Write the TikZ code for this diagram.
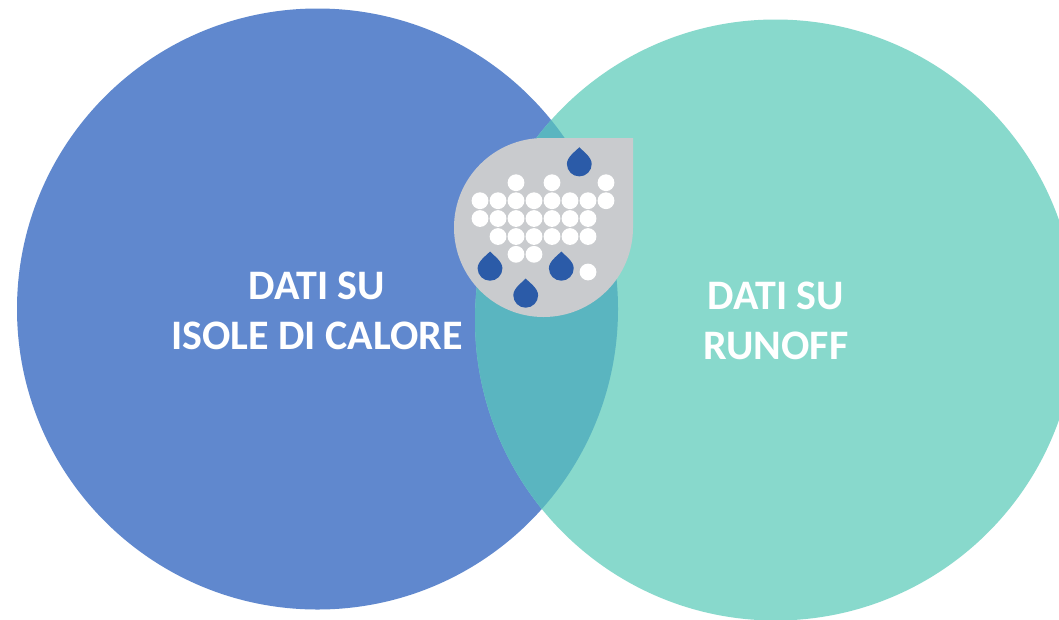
\documentclass[tikz,border=0pt]{standalone}
\usepackage{fontspec}
\setmainfont{Carlito}
\definecolor{bluecirc}{HTML}{6088CE}
\definecolor{tealcirc}{HTML}{88D9CC}
\definecolor{lenscol}{HTML}{5AB5C0}
\definecolor{greydrop}{HTML}{C9CBCE}
\definecolor{raincol}{HTML}{2B5BA8}
\tikzset{
  vennlabel/.style={text=white,font=\bfseries\fontsize{42}{50}\selectfont,align=center,inner sep=0pt},
  whitedot/.style={fill=white,draw=none},
  raindrop/.pic={\fill[raincol] (0,-16.8) .. controls (4,-12.5) and (12.4,-7) .. (12.4,0)
      arc[start angle=0,end angle=180,radius=12.4] .. controls (-12.4,-7) and (-4,-12.5) .. cycle;}
}
\begin{document}
\begin{tikzpicture}[x=1pt,y=-1pt]
\clip (0,0) rectangle (1059,619);
\fill[white] (0,0) rectangle (1059,619);
\fill[bluecirc] (317.5,309) circle[radius=300.5];
\fill[tealcirc] (775.5,320) circle[radius=300.5];
\begin{scope}
  \clip (317.5,309) circle[radius=300.5];
  \fill[lenscol] (775.5,320) circle[radius=300.5];
\end{scope}
\fill[greydrop] (633,138) -- (633,227.5) arc[start angle=0,end angle=270,radius=89.5] -- cycle;
\foreach \x/\y in {516/182.7,552/182.7,606/182.7,
  480/200.7,498/200.7,516/200.7,534/200.7,552/200.7,570/200.7,588/200.7,606/200.7,
  480/218.5,498/218.5,516/218.5,534/218.5,552/218.5,570/218.5,588/218.5,
  498/236.5,516/236.5,534/236.5,552/236.5,570/236.5,588/236.5,
  516/254.3,534/254.3,588/272}
  \fill[whitedot] (\x,\y) circle[radius=8.4];
\pic at (579.3,164) {raindrop};
\pic at (490,268.3) {raindrop};
\pic at (525.7,295.3) {raindrop};
\pic at (561.3,268.3) {raindrop};
\node[vennlabel] (left) at (317,311) {DATI SU\\ISOLE DI CALORE};
\node[vennlabel] (right) at (776,321) {DATI SU\\RUNOFF};
\end{tikzpicture}
\end{document}
